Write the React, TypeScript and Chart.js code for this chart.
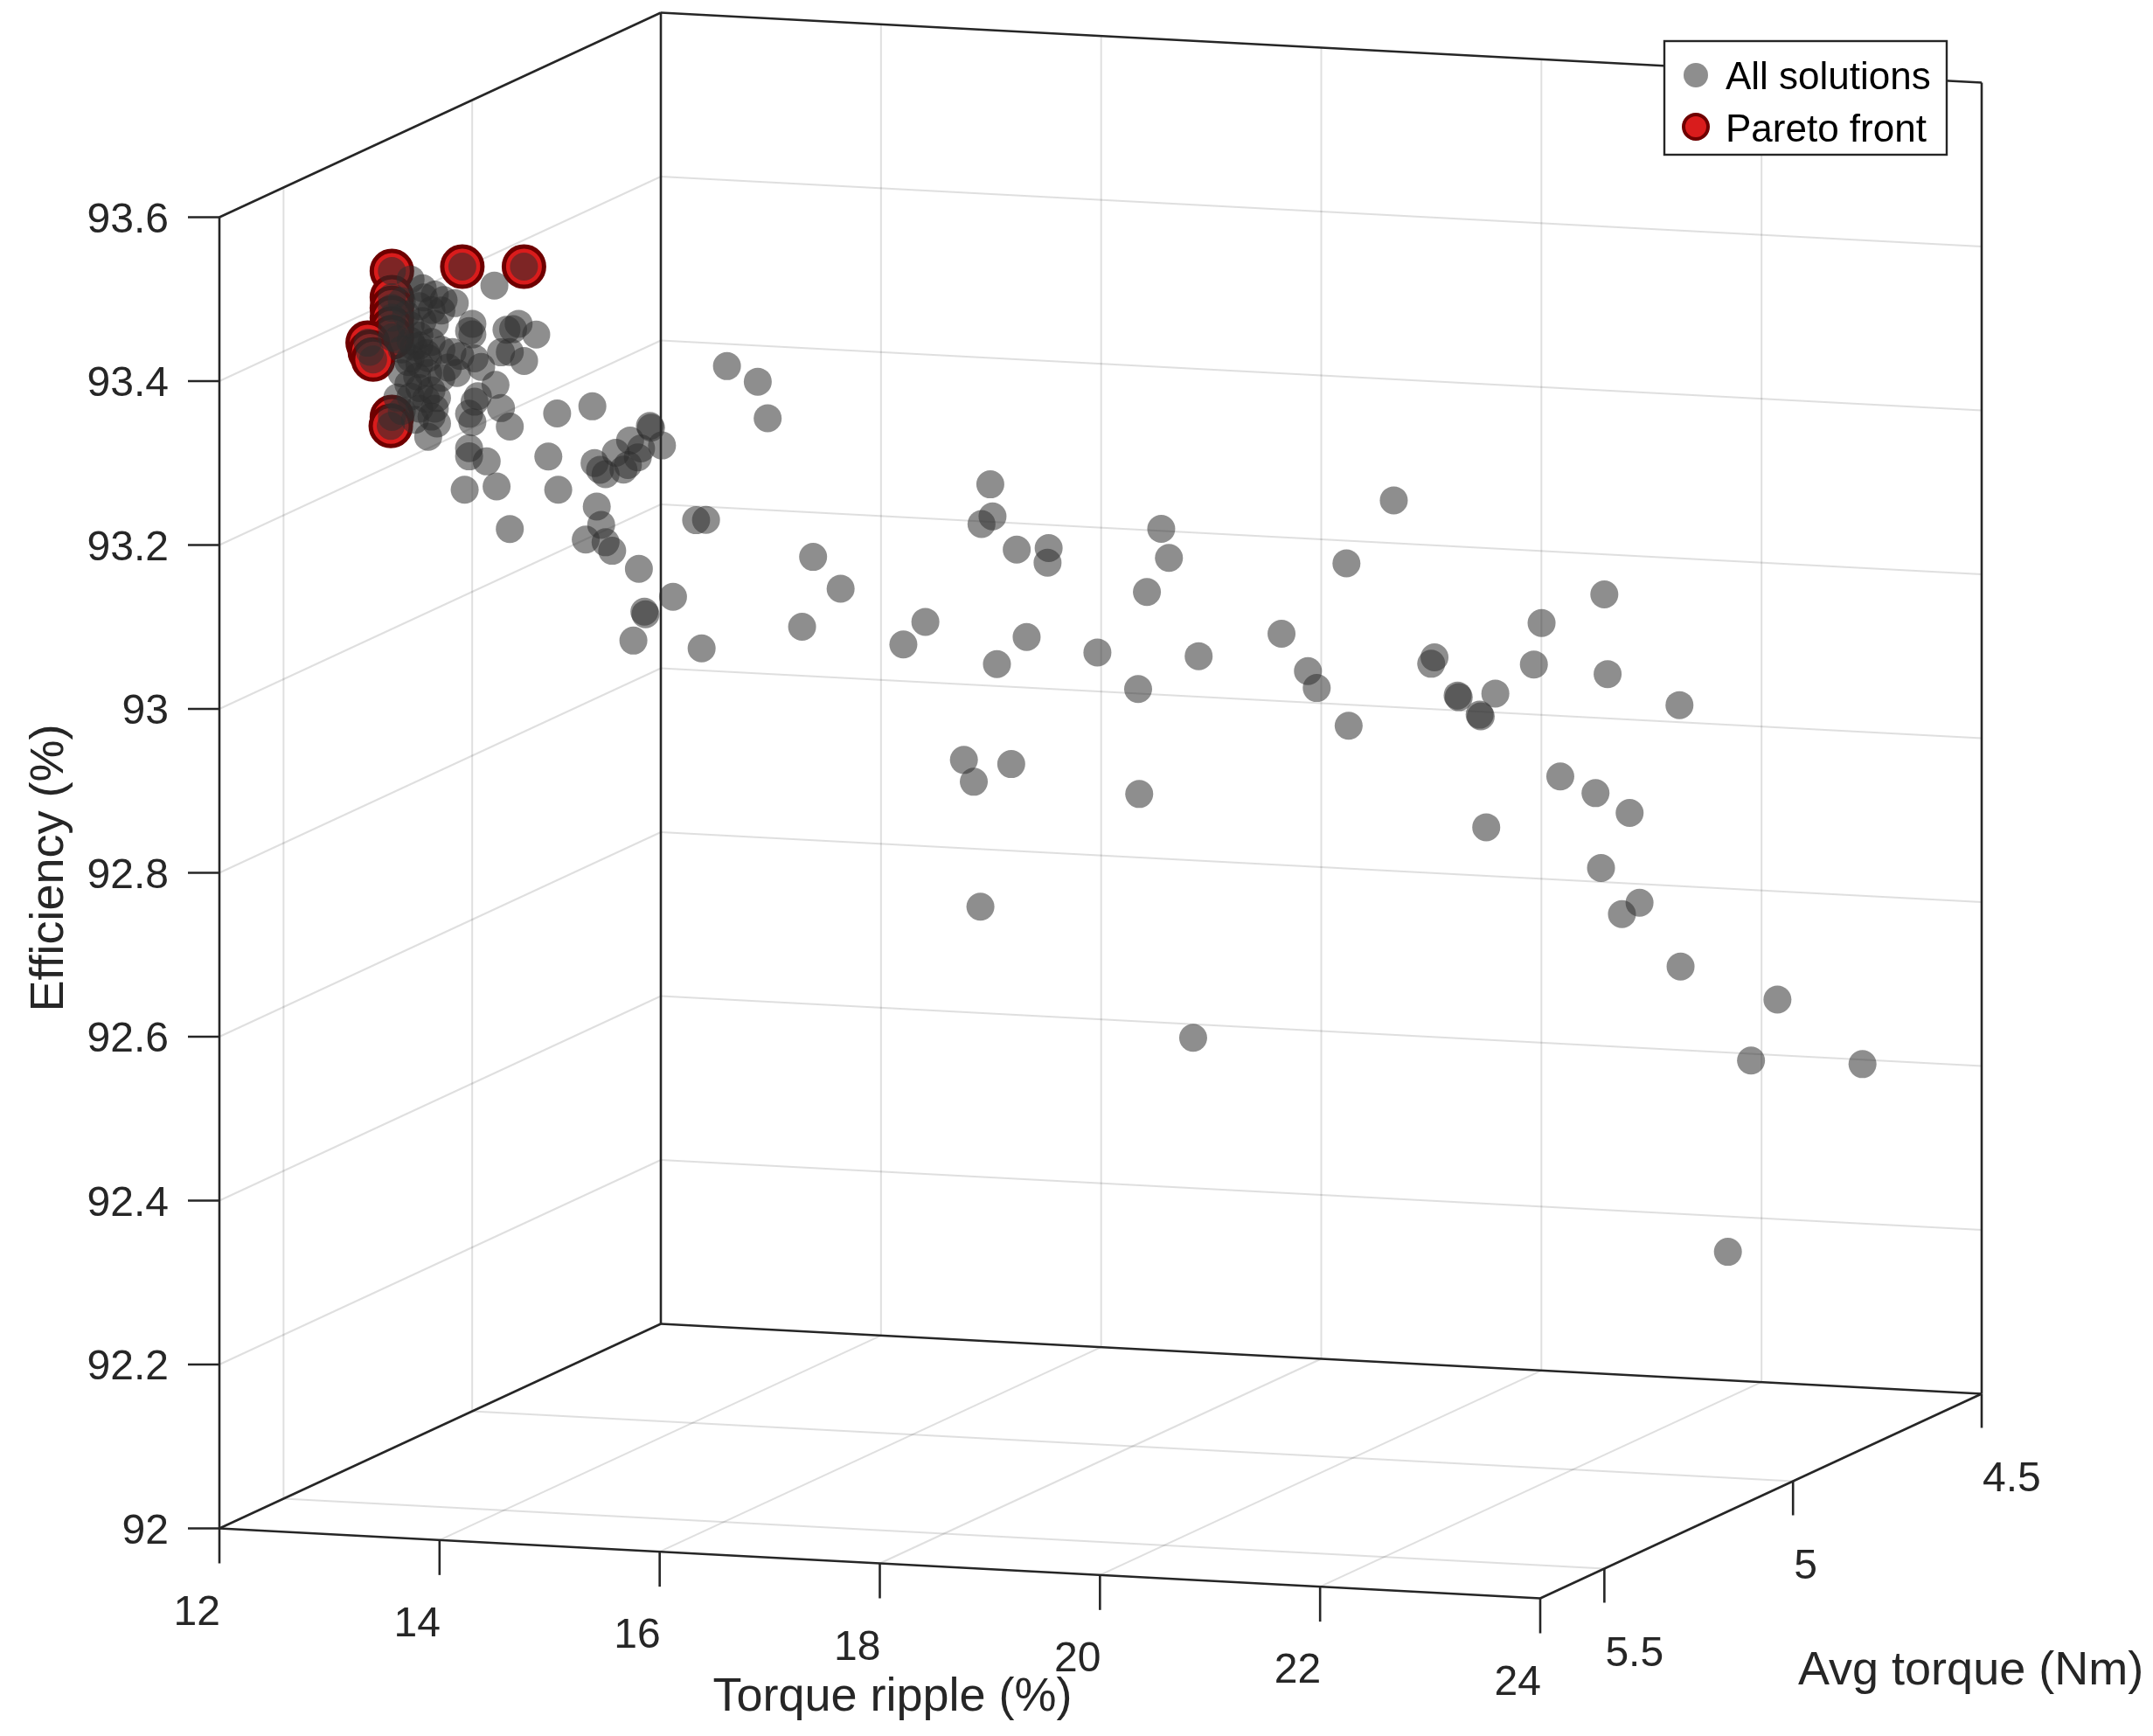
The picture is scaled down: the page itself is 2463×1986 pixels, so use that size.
import { useEffect, useRef } from 'react'
import { Chart, registerables } from 'chart.js'

Chart.register(...registerables)

const W = 2463
const H = 1986

// axis limits and ticks
const rippleMin = 12
const rippleMax = 24
const torqueMin = 4.5
const torqueMax = 5.67
const effMin = 92
const effMax = 93.6
const rippleTicks = [12, 14, 16, 18, 20, 22, 24]
const torqueTicks = [4.5, 5, 5.5]
const effTicks = [92, 92.2, 92.4, 92.6, 92.8, 93, 93.2, 93.4, 93.6]

// Pareto front solutions
const paretoRipple = [12.71, 12.71, 12.71, 12.71, 12.71, 12.71, 12.49, 12.51, 12.54, 12.71, 12.70, 13.35, 13.91]
const paretoTorque = [5.42, 5.42, 5.42, 5.42, 5.42, 5.42, 5.42, 5.42, 5.42, 5.42, 5.42, 5.42, 5.42]
const paretoEff = [93.486, 93.454, 93.441, 93.429, 93.416, 93.405, 93.397, 93.386, 93.377, 93.308, 93.297, 93.496, 93.500]

// remaining (dominated) solutions
const otherRipple = [
  12.99, 13.10, 12.96, 13.07, 12.99, 13.10, 12.96, 13.07, 12.91, 13.02, 12.86, 12.96, 12.80, 12.94,
  13.04, 12.86, 12.96, 13.07, 13.02, 13.10, 12.96, 13.07, 13.12, 12.88, 13.18, 13.26, 13.22, 13.04,
  12.88, 12.80, 13.16, 12.88, 12.76, 13.16, 12.88, 12.76, 13.16, 12.92, 12.80, 13.12, 13.00, 12.88,
  13.04, 12.80, 12.96, 12.84,
  13.11, 13.27, 13.27, 13.24, 13.16, 13.29, 13.13, 13.35, 13.58, 13.69, 13.85, 13.64, 13.53, 13.61,
  13.74, 13.47, 13.48, 13.32, 13.29, 13.27, 13.24, 13.53, 13.61, 13.24, 13.24, 13.40, 13.20, 13.49,
  14.04, 14.36, 13.96, 14.05, 13.61, 14.38, 14.48, 14.43, 14.40, 14.44, 14.30, 14.48, 14.54,
  14.36, 14.23, 14.34, 14.30, 14.43, 14.46, 14.54, 14.55, 14.65, 14.44, 14.75, 14.49, 14.50, 14.39,
  14.96, 15.05, 15.01, 15.24, 15.52, 15.61,
  15.68, 15.93, 15.58, 16.70, 16.50, 17.29, 17.31, 17.21, 17.53, 17.82, 17.81, 17.62, 17.35, 17.05,
  17.14, 17.48, 17.20,
  17.92, 18.29, 18.50, 18.57, 18.37, 18.84, 18.30, 18.79,
  19.25, 19.49, 19.57, 19.86, 19.84, 20.27, 20.64, 20.61, 20.85, 20.86, 21.05, 21.06, 21.11,
  20.85, 21.27, 21.20, 21.84, 21.87, 21.44, 21.76, 22.07, 21.81, 22.16, 22.00,
  22.18, 22.19, 23.07, 22.83, 22.62,
  23.50,
]
const otherTorque = [
  5.42, 5.42, 5.42, 5.42, 5.42, 5.42, 5.42, 5.42, 5.42, 5.42, 5.42, 5.42, 5.42, 5.42,
  5.42, 5.42, 5.42, 5.42, 5.42, 5.42, 5.42, 5.42, 5.42, 5.42, 5.42, 5.42, 5.42, 5.42,
  5.42, 5.42, 5.42, 5.42, 5.42, 5.42, 5.42, 5.42, 5.42, 5.42, 5.42, 5.42, 5.42, 5.42,
  5.42, 5.42, 5.42, 5.42,
  5.37, 5.37, 5.37, 5.37, 5.37, 5.37, 5.37, 5.37, 5.37, 5.37, 5.37, 5.37, 5.37, 5.37,
  5.37, 5.37, 5.37, 5.37, 5.37, 5.37, 5.37, 5.37, 5.37, 5.37, 5.37, 5.37, 5.37, 5.37,
  5.37, 5.37, 5.37, 5.37, 5.37, 5.37, 5.37, 5.37, 5.37, 5.37, 5.37, 5.37, 5.37,
  5.27, 5.27, 5.27, 5.27, 5.27, 5.27, 5.27, 5.27, 5.27, 5.27, 5.27, 5.27, 5.27, 5.27,
  5.27, 5.27, 5.27, 5.27, 5.27, 5.27,
  5.17, 5.17, 5.17, 5.17, 5.17, 5.17, 5.17, 5.17, 5.17, 5.17, 5.17, 5.17, 5.17, 5.17,
  5.17, 5.17, 5.17,
  5.07, 5.07, 5.07, 5.07, 5.07, 5.07, 5.07, 5.07,
  4.97, 4.97, 4.97, 4.97, 4.97, 4.97, 4.97, 4.97, 4.97, 4.97, 4.97, 4.97, 4.97,
  4.87, 4.87, 4.87, 4.87, 4.87, 4.87, 4.87, 4.87, 4.87, 4.87, 4.87,
  4.77, 4.77, 4.77, 4.77, 4.77,
  4.67,
]
const otherEff = [
  93.467, 93.460, 93.445, 93.441, 93.427, 93.424, 93.409, 93.402, 93.395, 93.388, 93.376, 93.374, 93.362, 93.359,
  93.364, 93.349, 93.345, 93.343, 93.332, 93.321, 93.320, 93.311, 93.303, 93.334, 93.454, 93.391, 93.372, 93.286,
  93.477, 93.450, 93.441, 93.421, 93.403, 93.393, 93.381, 93.332, 93.359, 93.306, 93.316, 93.334, 93.456, 93.402,
  93.382, 93.391, 93.397, 93.434,
  93.439, 93.415, 93.402, 93.406, 93.375, 93.373, 93.354, 93.363, 93.410, 93.418, 93.406, 93.411, 93.382, 93.383,
  93.373, 93.463, 93.342, 93.327, 93.320, 93.295, 93.305, 93.314, 93.292, 93.263, 93.253, 93.248, 93.212, 93.218,
  93.311, 93.322, 93.258, 93.218, 93.167, 93.253, 93.240, 93.245, 93.200, 93.178, 93.159, 93.157, 93.147,
  93.259, 93.243, 93.229, 93.223, 93.239, 93.250, 93.278, 93.276, 93.255, 93.103, 93.071, 93.051, 93.048, 93.015,
  93.166, 93.167, 93.010, 93.356, 93.339, 93.295,
  93.105, 93.068, 93.019, 93.033, 93.004, 93.205, 93.166, 93.156, 93.127, 93.131, 93.113, 93.021, 92.986, 92.867,
  92.841, 92.865, 92.689,
  92.983, 92.941, 93.138, 93.103, 93.060, 92.985, 92.813, 92.519,
  92.994, 92.950, 92.930, 92.886, 93.084, 93.164, 92.975, 92.967, 92.930, 92.928, 92.908, 92.906, 92.771,
  92.911, 93.000, 92.949, 93.039, 92.942, 92.814, 92.796, 92.774, 92.705, 92.665, 92.650,
  92.885, 92.566, 92.532, 92.456, 92.221,
  92.435,
]

const FONT = '"Liberation Sans", Arial, Helvetica, sans-serif'
const INK = '#262626'
const GRID = 'rgba(38, 38, 38, 0.15)'
const GRAY = 'rgba(46, 46, 46, 0.54)'
const RED = 'rgb(217, 28, 28)'
const DARK_RED = '#6e0000'

// fixed MATLAB-like camera: where the front-left-bottom corner sits and how each axis runs on screen
const VIEW = { ox: 251, oy: 1748.5, rx: 1511, ry: 80, tx: 505, ty: -234, ez: 1500 }

function project(r: number, t: number, e: number) {
  const fr = (r - rippleMin) / (rippleMax - rippleMin)
  const ft = (torqueMax - t) / (torqueMax - torqueMin)
  const fe = (e - effMin) / (effMax - effMin)
  return {
    x: VIEW.ox + fr * VIEW.rx + ft * VIEW.tx,
    y: VIEW.oy + fr * VIEW.ry + ft * VIEW.ty - fe * VIEW.ez,
  }
}

const box3dPlugin = {
  id: 'box3d',
  beforeDatasetsDraw(chart: any) {
    const ctx: CanvasRenderingContext2D = chart.ctx
    const sx = chart.scales.x
    const sy = chart.scales.y
    const pt = (r: number, t: number, e: number): [number, number] => {
      const p = project(r, t, e)
      return [sx.getPixelForValue(p.x), sy.getPixelForValue(p.y)]
    }
    const seg = (a: [number, number], b: [number, number], color: string, w: number) => {
      ctx.beginPath()
      ctx.moveTo(a[0], a[1])
      ctx.lineTo(b[0], b[1])
      ctx.strokeStyle = color
      ctx.lineWidth = w
      ctx.stroke()
    }
    ctx.save()
    ctx.lineCap = 'butt'

    // back wall grid
    rippleTicks.slice(1, -1).forEach(r => seg(pt(r, torqueMin, effMin), pt(r, torqueMin, effMax), GRID, 2))
    effTicks.slice(1, -1).forEach(e => seg(pt(rippleMin, torqueMin, e), pt(rippleMax, torqueMin, e), GRID, 2))
    // left wall grid
    torqueTicks.slice(1).forEach(t => seg(pt(rippleMin, t, effMin), pt(rippleMin, t, effMax), GRID, 2))
    effTicks.slice(1, -1).forEach(e => seg(pt(rippleMin, torqueMax, e), pt(rippleMin, torqueMin, e), GRID, 2))
    // floor grid
    rippleTicks.slice(1, -1).forEach(r => seg(pt(r, torqueMax, effMin), pt(r, torqueMin, effMin), GRID, 2))
    torqueTicks.slice(1).forEach(t => seg(pt(rippleMin, t, effMin), pt(rippleMax, t, effMin), GRID, 2))

    // box edges (back style)
    const edges: [number, number, number, number, number, number][] = [
      [rippleMin, torqueMax, effMin, rippleMin, torqueMax, effMax],
      [rippleMin, torqueMax, effMin, rippleMax, torqueMax, effMin],
      [rippleMax, torqueMax, effMin, rippleMax, torqueMin, effMin],
      [rippleMin, torqueMax, effMin, rippleMin, torqueMin, effMin],
      [rippleMin, torqueMin, effMin, rippleMax, torqueMin, effMin],
      [rippleMin, torqueMin, effMin, rippleMin, torqueMin, effMax],
      [rippleMax, torqueMin, effMin, rippleMax, torqueMin, effMax],
      [rippleMin, torqueMax, effMax, rippleMin, torqueMin, effMax],
      [rippleMin, torqueMin, effMax, rippleMax, torqueMin, effMax],
    ]
    edges.forEach(e => seg(pt(e[0], e[1], e[2]), pt(e[3], e[4], e[5]), INK, 2.6))

    // ticks and tick labels
    ctx.fillStyle = INK
    ctx.font = `48px ${FONT}`
    ctx.textBaseline = 'alphabetic'
    effTicks.forEach(e => {
      const p = pt(rippleMin, torqueMax, e)
      seg(p, [p[0] - 36, p[1]], INK, 2.6)
      ctx.textAlign = 'right'
      ctx.fillText(String(e), p[0] - 58, p[1] + 17)
    })
    rippleTicks.forEach(r => {
      const p = pt(r, torqueMax, effMin)
      seg(p, [p[0], p[1] + 40], INK, 2.6)
      ctx.textAlign = 'right'
      ctx.fillText(String(r), p[0] + 1, p[1] + 110)
    })
    torqueTicks.forEach(t => {
      const p = pt(rippleMax, t, effMin)
      seg(p, [p[0], p[1] + 39], INK, 2.6)
      ctx.textAlign = 'left'
      ctx.fillText(String(t), p[0] + 1, p[1] + 111)
    })

    // axis titles
    ctx.font = `54px ${FONT}`
    ctx.textAlign = 'center'
    ctx.fillText('Torque ripple (%)', 1021, 1957)
    ctx.textAlign = 'left'
    ctx.fillText('Avg torque (Nm)', 2057, 1927)
    ctx.save()
    ctx.translate(72, 993)
    ctx.rotate(-Math.PI / 2)
    ctx.textAlign = 'center'
    ctx.fillText('Efficiency (%)', 0, 0)
    ctx.restore()

    ctx.restore()
  },
  afterDatasetsDraw(chart: any) {
    const ctx: CanvasRenderingContext2D = chart.ctx
    ctx.save()
    // legend box
    ctx.fillStyle = '#ffffff'
    ctx.fillRect(1904, 47, 323, 130)
    ctx.strokeStyle = INK
    ctx.lineWidth = 2.4
    ctx.strokeRect(1904, 47, 323, 130)

    ctx.beginPath()
    ctx.arc(1940, 86, 14, 0, Math.PI * 2)
    ctx.fillStyle = GRAY
    ctx.fill()

    ctx.beginPath()
    ctx.arc(1940, 145, 14, 0, Math.PI * 2)
    ctx.fillStyle = RED
    ctx.fill()
    ctx.strokeStyle = DARK_RED
    ctx.lineWidth = 4
    ctx.stroke()

    ctx.fillStyle = '#000000'
    ctx.font = `44px ${FONT}`
    ctx.textAlign = 'left'
    ctx.textBaseline = 'alphabetic'
    ctx.fillText('All solutions', 1974, 102)
    ctx.fillText('Pareto front', 1974, 162)
    ctx.restore()
  },
}

export default function App() {
  const canvasRef = useRef<HTMLCanvasElement>(null)
  const chartRef = useRef<Chart | null>(null)

  useEffect(() => {
    document.body.style.margin = '0'
    document.body.style.overflow = 'hidden'
    if (!canvasRef.current) return
    const ctx = canvasRef.current.getContext('2d')
    if (!ctx) return
    if (chartRef.current) chartRef.current.destroy()

    const toPoints = (rs: number[], ts: number[], es: number[]) =>
      rs.map((r, i) => project(r, ts[i], es[i]))

    // every Pareto solution is also one of "all solutions"
    const allRipple = [...otherRipple, ...paretoRipple]
    const allTorque = [...otherTorque, ...paretoTorque]
    const allEff = [...otherEff, ...paretoEff]

    chartRef.current = new Chart(ctx, {
      type: 'scatter',
      data: {
        datasets: [
          {
            label: 'All solutions',
            data: toPoints(allRipple, allTorque, allEff),
            backgroundColor: GRAY,
            borderWidth: 0,
            pointRadius: 16,
            pointHoverRadius: 16,
            order: 0,
            clip: false,
          },
          {
            label: 'Pareto front',
            data: toPoints(paretoRipple, paretoTorque, paretoEff),
            backgroundColor: RED,
            borderColor: DARK_RED,
            borderWidth: 5,
            pointRadius: 23,
            pointHoverRadius: 23,
            order: 1,
            clip: false,
          },
        ],
      },
      options: {
        animation: false,
        responsive: false,
        devicePixelRatio: 1,
        events: [],
        layout: { padding: 0, autoPadding: false },
        plugins: {
          legend: { display: false },
          tooltip: { enabled: false },
        },
        scales: {
          x: { type: 'linear', display: false, min: 0, max: W },
          y: { type: 'linear', display: false, min: 0, max: H, reverse: true },
        },
      },
      plugins: [box3dPlugin],
    } as any)

    return () => {
      if (chartRef.current) {
        chartRef.current.destroy()
        chartRef.current = null
      }
    }
  }, [])

  return (
    <div style={{ width: W, height: H, background: '#ffffff' }}>
      <canvas ref={canvasRef} width={W} height={H} style={{ display: 'block' }} />
    </div>
  )
}
